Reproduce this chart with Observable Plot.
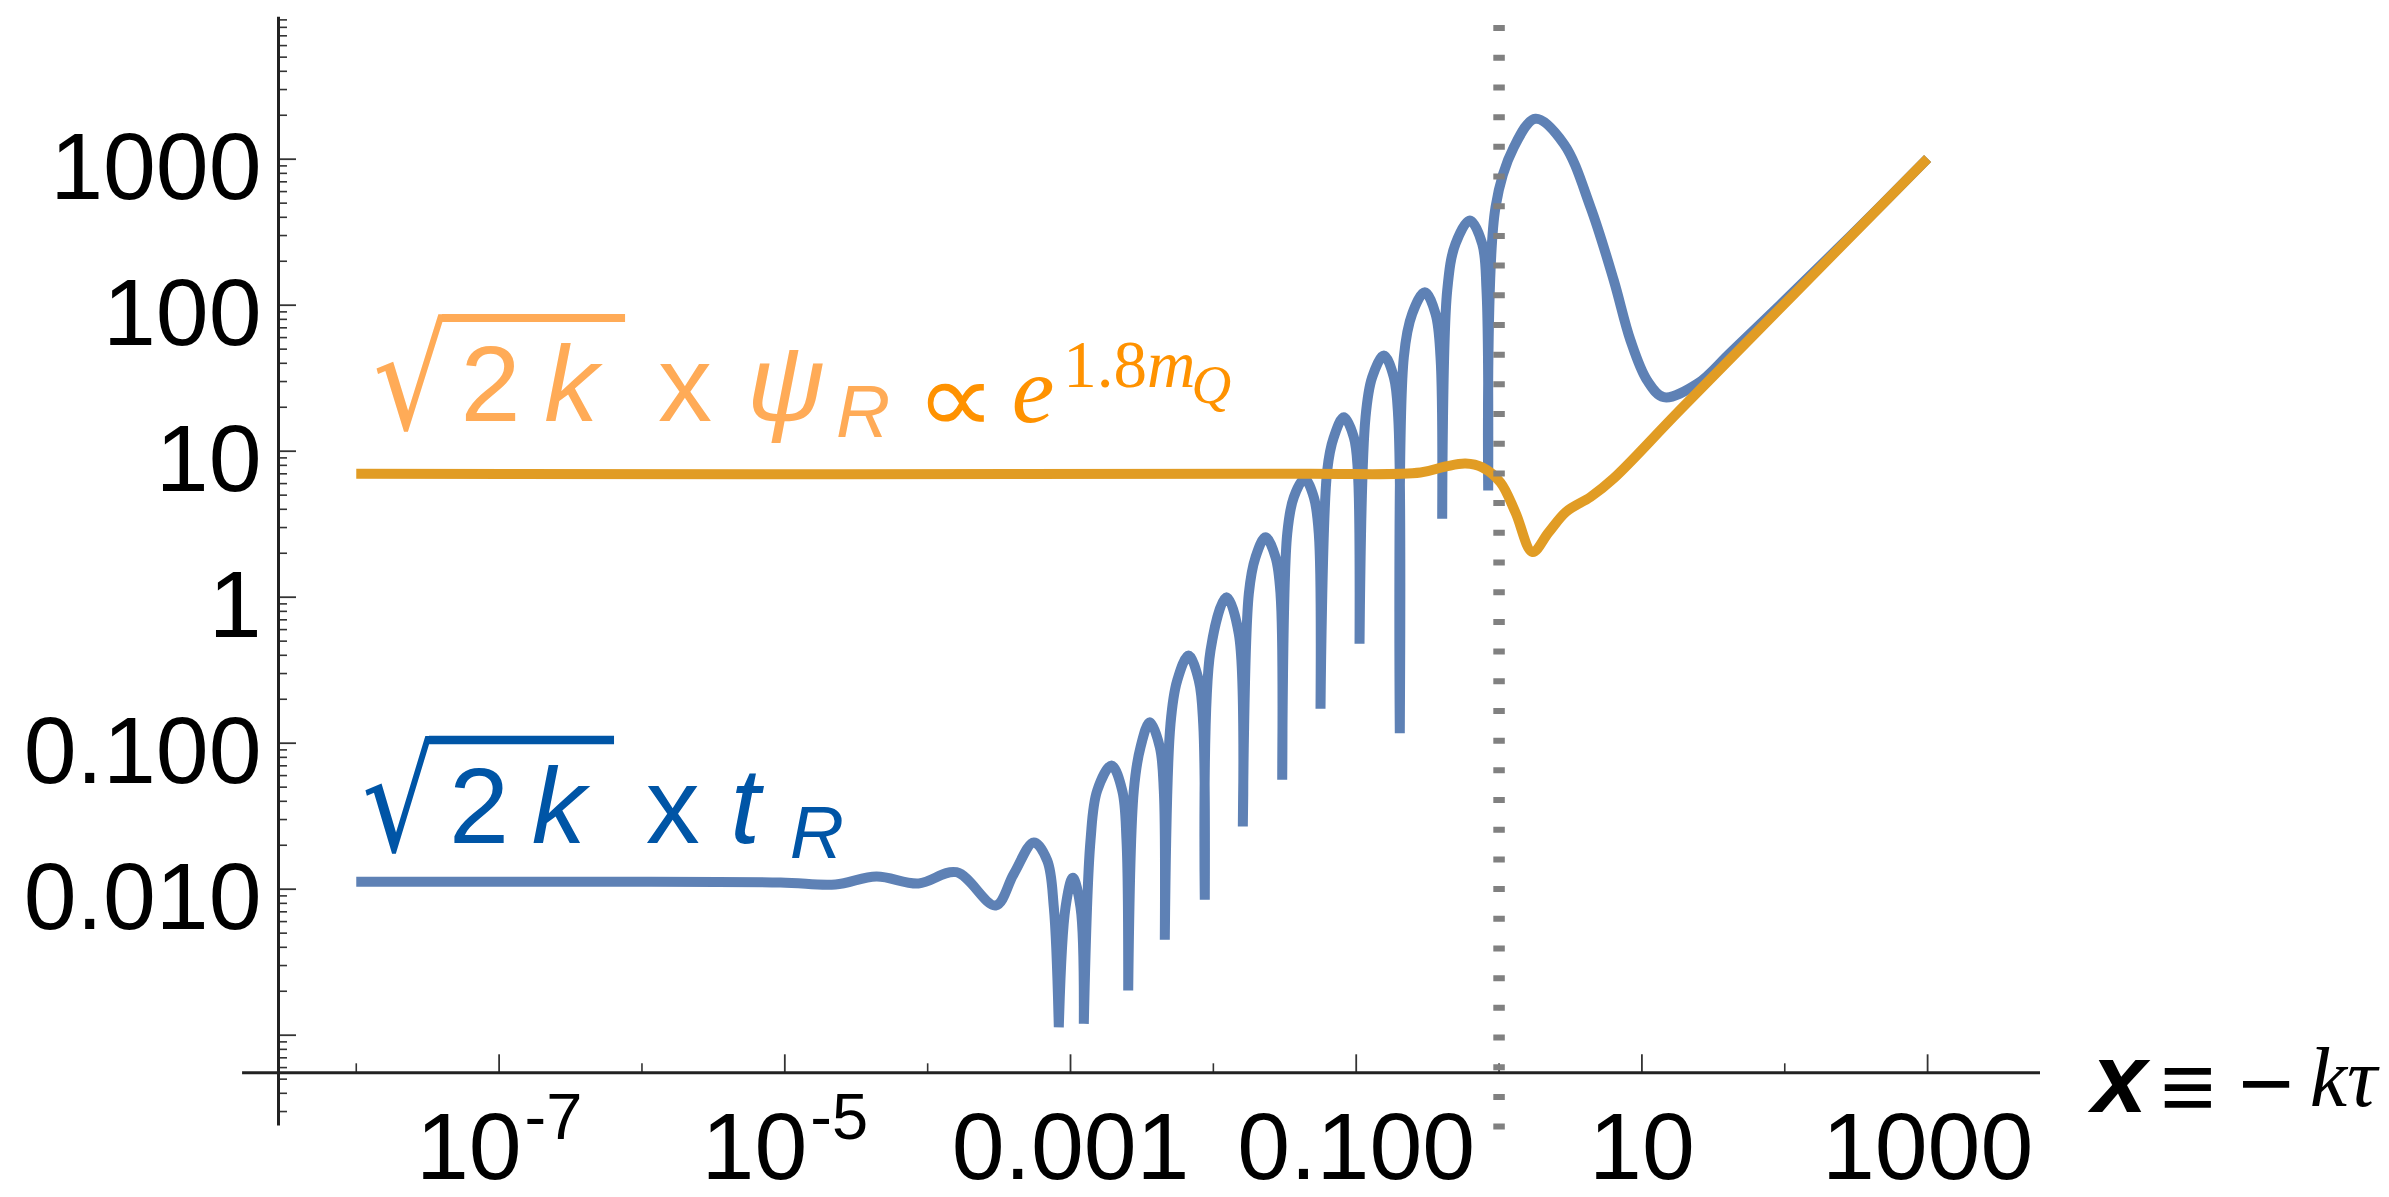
<!DOCTYPE html>
<html>
<head>
<meta charset="utf-8">
<script src="https://cdn.jsdelivr.net/npm/d3@7"></script>
<script src="https://cdn.jsdelivr.net/npm/@observablehq/plot@0.6"></script>
<style>
html, body { margin: 0; padding: 0; background: #fff; overflow: hidden; }
#chart svg { display: block; }
</style>
</head>
<body>
<div id="chart"></div>
<script>
// ---------------- data ----------------
// blue curve: sqrt(2k) x t_R
const tX = [1e-8, 5.13e-7, 9.33e-6, 2.26e-5, 4.38e-5, 8.63e-5, 1.59e-4, 2.99e-4, 4.01e-4, 5.54e-4,
  6.87e-4, 7.64e-4, 8.28e-4, 9.23e-4, 1.038e-3, 1.175e-3, 1.239e-3, 1.380e-3, 1.538e-3, 1.936e-3,
  2.301e-3, 2.466e-3, 2.535e-3, 2.774e-3, 3.090e-3, 3.591e-3, 4.219e-3, 4.499e-3, 4.572e-3, 5.012e-3,
  5.584e-3, 6.699e-3, 7.908e-3, 8.490e-3, 8.711e-3, 9.550e-3, 0.01236, 0.01507, 0.01608, 0.01771,
  0.01973, 0.02318, 0.02724, 0.02952, 0.03034, 0.03289, 0.03658, 0.04346, 0.05049, 0.05472,
  0.05625, 0.06266, 0.06970, 0.08189, 0.09620, 0.1026, 0.1055, 0.1162, 0.1294, 0.1561,
  0.1833, 0.1968, 0.2019, 0.2154, 0.2466, 0.3021, 0.3591, 0.3892, 0.3999, 0.4335,
  0.4956, 0.6241, 0.7621, 0.8169, 0.8395, 0.9443, 1.268, 1.800, 2.840, 4.367,
  6.358, 8.324, 10.89, 14.23, 24.39, 41.72, 93.40, 288.6, 1000];
const tY = [0.01124, 0.01124, 0.01111, 0.01077, 0.01222, 0.01094, 0.01307, 0.007734, 0.01275, 0.02089,
  0.01573, 0.007529, 0.001134, 0.007529, 0.01197, 0.007529, 0.001197, 0.02156, 0.04742, 0.07036,
  0.04742, 0.02156, 0.002024, 0.04742, 0.09389, 0.1392, 0.09389, 0.04742, 0.004502, 0.1358,
  0.2689, 0.3988, 0.2689, 0.1358, 0.008461, 0.4314, 1.0, 0.5614, 0.02689, 1.055,
  1.879, 2.576, 1.879, 1.055, 0.05614, 2.718, 4.841, 6.471, 4.841, 2.718,
  0.1720, 7.375, 12.47, 17.10, 12.47, 7.375, 0.4795, 17.10, 32.12, 45.24,
  32.12, 17.10, 0.1171, 44.04, 87.34, 122.7, 87.34, 44.04, 3.443, 126.1,
  263.4, 380.3, 263.4, 126.1, 5.381, 469.1, 1208, 1891, 1275, 469.1,
  147.6, 57.31, 30.50, 23.44, 28.94, 47.4, 101.1, 297.9, 1010];
// x positions of the sharp dips (zeros) of the blue curve
const tCusps = [8.28e-4, 1.239e-3, 2.535e-3, 4.572e-3, 8.711e-3, 0.01608, 0.03034, 0.05625, 0.1055, 0.2019, 0.3999, 0.8395];

// orange curve: sqrt(2k) x psi_R
const psiX = [1e-8, 0.04, 0.2819, 0.4218, 0.5823, 0.7657, 1.023, 1.303, 1.715, 2.220, 2.966, 4.367, 6.327, 18.63, 1000];
const psiY = [7.0, 7.0, 7.146, 7.857, 8.237, 7.733, 6.105, 3.803, 2.040, 2.775, 3.864, 4.857, 6.501, 19.30, 1010];

// horizon crossing marker
const markerX = [1];

// ticks
const xTickValues = [1e-7, 1e-5, 1e-3, 1e-1, 10, 1000];
const xTickLabels = ["10^-7", "10^-5", "0.001", "0.100", "10", "1000"];
const xMinorValues = [1e-8, 1e-6, 1e-4, 1e-2, 1, 100];
const yTickValues = [0.01, 0.1, 1, 10, 100, 1000];
const yTickLabels = ["0.010", "0.100", "1", "10", "100", "1000"];
const yMajorValues = [1e-3, 0.01, 0.1, 1, 10, 100, 1000];

// axis extents (where the axes cross / end)
const X_MIN = 2.855e-9;       // y axis position
const X_MAX = 6170;           // right end of the x axis
const X_AXIS_LEFT = 1.6e-9;   // x axis sticks out left of the y axis
const Y_MIN = 5.527e-4;       // x axis position
const Y_MAX = 9374;           // top of the y axis
const Y_AXIS_BOTTOM = 2.392e-4;
const MARKER_TOP = 8226, MARKER_BOTTOM = 2.239e-4;

// legend anchors (data units): left of the radical, text baseline
const psiLabelAt = {x: 1.387e-8, y: 15.97};
const tLabelAt = {x: 1.161e-8, y: 0.02046};

// ---------------- styling ----------------
const W = 2389, H = 1197;
const ML = 278, MR = 349, MT = 16.8, MB = 124.7;
const FRAME_W = W - ML - MR, FRAME_H = H - MT - MB;
const SANS = "'Liberation Sans', Arial, Helvetica, sans-serif";
const SERIF = "'Liberation Serif', 'Times New Roman', Times, serif";
const DEJAVU = "'DejaVu Sans', sans-serif";
const BLUE = "#5E81B5", ORANGE = "#E19C24";
const BLUE_TXT = "#0055A6", ORANGE_TXT = "#FFAB57", ORANGE_TXT2 = "#FF9200";
const AXIS = "#222", TICK = "#333";
const LW = 10;

// build tables
const tData = [];
tX.forEach((x, i) => {
  const p = {x, y: tY[i]};
  tData.push(p);
  if (tCusps.includes(x)) tData.push({...p});
});
const psiData = psiX.map((x, i) => ({x, y: psiY[i]}));

const yMinor = [];
for (let e = -4; e <= 3; e++) for (let k = 2; k <= 9; k++) {
  const v = k * Math.pow(10, e);
  if (v >= Y_AXIS_BOTTOM && v <= Y_MAX) yMinor.push(v);
}

const plot = Plot.plot({
  width: W, height: H,
  marginLeft: ML, marginRight: MR, marginTop: MT, marginBottom: MB,
  x: {type: "log", domain: [X_MIN, X_MAX], axis: null},
  y: {type: "log", domain: [Y_MIN, Y_MAX], axis: null},
  style: {background: "white", overflow: "visible"},
  marks: [
    Plot.tickY(yMinor, {y: d => d, insetRight: FRAME_W - 9, stroke: TICK, strokeWidth: 1.6}),
    Plot.tickY(yMajorValues, {y: d => d, insetRight: FRAME_W - 18, stroke: TICK, strokeWidth: 1.8}),
    Plot.tickX(xMinorValues, {x: d => d, insetTop: FRAME_H - 9, stroke: TICK, strokeWidth: 1.6}),
    Plot.tickX(xTickValues, {x: d => d, insetTop: FRAME_H - 18, stroke: TICK, strokeWidth: 1.8}),
    Plot.ruleY([Y_MIN], {x1: X_AXIS_LEFT, x2: X_MAX, stroke: AXIS, strokeWidth: 3}),
    Plot.ruleX([X_MIN], {y1: Y_AXIS_BOTTOM, y2: Y_MAX, stroke: AXIS, strokeWidth: 3}),
    Plot.line(tData, {x: "x", y: "y", stroke: BLUE, strokeWidth: LW, curve: "catmull-rom",
      strokeLinejoin: "miter", strokeMiterlimit: 4, strokeLinecap: "butt"}),
    Plot.line(psiData, {x: "x", y: "y", stroke: ORANGE, strokeWidth: LW, curve: "catmull-rom",
      strokeLinejoin: "round", strokeLinecap: "butt"}),
    Plot.ruleX(markerX, {x: d => d, y1: MARKER_TOP, y2: MARKER_BOTTOM, stroke: "#808080",
      strokeWidth: 11.5, strokeDasharray: "6 23.69"}),
    Plot.text(yTickValues, {y: d => d, frameAnchor: "left", text: (d, i) => yTickLabels[i],
      textAnchor: "end", lineAnchor: "bottom", dx: -17, dy: 39.5, fontSize: 95,
      fontFamily: SANS, fill: "black", ariaLabel: "y-tick-label"}),
    Plot.text(xTickValues, {x: d => d, frameAnchor: "bottom", text: (d, i) => xTickLabels[i],
      textAnchor: "middle", lineAnchor: "bottom", dy: 106, fontSize: 95,
      fontFamily: SANS, fill: "black", ariaLabel: "x-tick-label"})
  ]
});

document.getElementById("chart").appendChild(plot);

// ---------------- rich text (superscripts, legends, axis label) ----------------
const NS = "http://www.w3.org/2000/svg";
const svg = plot.tagName.toLowerCase() === "svg" ? plot : plot.querySelector("svg");

function mapper(sc) {
  if (sc && typeof sc.apply === "function") return v => sc.apply(v);
  const [d0, d1] = sc.domain, [r0, r1] = sc.range;
  return v => r0 + (Math.log(v) - Math.log(d0)) / (Math.log(d1) - Math.log(d0)) * (r1 - r0);
}
const fx = mapper(plot.scale("x"));
const fy = mapper(plot.scale("y"));

// x tick labels with exponents
svg.querySelectorAll("text").forEach(t => {
  const s = t.textContent;
  if (s.includes("^")) {
    const [base, sup] = s.split("^");
    t.textContent = "";
    const b = document.createElementNS(NS, "tspan");
    b.textContent = base;
    t.appendChild(b);
    const p = document.createElementNS(NS, "tspan");
    p.textContent = sup;
    p.setAttribute("font-size", 65);
    p.setAttribute("dy", -40);
    p.setAttribute("dx", 3);
    t.appendChild(p);
  }
});

const layer = document.createElementNS(NS, "g");
layer.setAttribute("text-anchor", "start");
svg.appendChild(layer);
const ctx = document.createElement("canvas").getContext("2d");

function fontOf(o) {
  return `${o.style || "normal"} ${o.weight || "normal"} ${o.size}px ${o.family || SANS}`;
}
function ink(str, o) { ctx.font = fontOf(o); return ctx.measureText(str); }
function addText(x, y, str, o) {
  const t = document.createElementNS(NS, "text");
  t.setAttribute("x", x);
  t.setAttribute("y", y);
  t.setAttribute("text-anchor", "start");
  t.setAttribute("font-family", o.family || SANS);
  t.setAttribute("font-size", o.size);
  if (o.style) t.setAttribute("font-style", o.style);
  if (o.weight) t.setAttribute("font-weight", o.weight);
  t.setAttribute("fill", o.fill);
  t.textContent = str;
  layer.appendChild(t);
  return t;
}
// place text so its ink starts at `left`; vertical by baseline or by ink top
function place(str, left, o) {
  const m = ink(str, o);
  const x = left + m.actualBoundingBoxLeft;
  const y = o.top !== undefined ? o.top + m.actualBoundingBoxAscent : o.baseline;
  return addText(x, y, str, o);
}
// scale a glyph so that its ink fills a box
function fit(str, box, o) {
  const m = ink(str, o);
  const w = m.actualBoundingBoxLeft + m.actualBoundingBoxRight;
  const h = m.actualBoundingBoxAscent + m.actualBoundingBoxDescent;
  const sx = (box.r - box.l) / w, sy = (box.b - box.t) / h;
  const t = addText(0, 0, str, o);
  t.setAttribute("transform",
    `translate(${box.l + m.actualBoundingBoxLeft * sx},${box.t + m.actualBoundingBoxAscent * sy}) scale(${sx},${sy})`);
  return t;
}
function addBar(x1, x2, y, w, color) {
  const l = document.createElementNS(NS, "line");
  l.setAttribute("x1", x1); l.setAttribute("x2", x2);
  l.setAttribute("y1", y); l.setAttribute("y2", y);
  l.setAttribute("stroke", color); l.setAttribute("stroke-width", w);
  layer.appendChild(l);
}
function tspan(parent, str, attrs) {
  const s = document.createElementNS(NS, "tspan");
  for (const k in attrs) s.setAttribute(k, attrs[k]);
  s.textContent = str;
  parent.appendChild(s);
  return s;
}

// orange legend: √(2k) x ψ_R ∝ e^{1.8 m_Q}
{
  const ax = fx(psiLabelAt.x), ay = fy(psiLabelAt.y);
  const c = ORANGE_TXT, c2 = ORANGE_TXT2;
  fit("\u221A", {l: ax, r: ax + 74, t: ay - 107, b: ay + 12}, {size: 120, family: DEJAVU, fill: c});
  addBar(ax + 66, ax + 249, ay - 103, 8, c);
  place("2", ax + 89.5, {baseline: ay, size: 108, fill: c});
  place("k", ax + 169.2, {baseline: ay, size: 108, style: "italic", fill: c});
  place("x", ax + 283, {baseline: ay, size: 108, fill: c});
  place("\u03C8", ax + 376.8, {baseline: ay, size: 108, style: "italic", fill: c});
  place("R", ax + 462, {baseline: ay + 15.7, size: 75, style: "italic", fill: c});
  fit("\u221D", {l: ax + 550.8, r: ax + 608, t: ay - 37.7, b: ay + 0.7}, {size: 100, family: DEJAVU, fill: c2});
  place("e", ax + 637.8, {baseline: ay + 1, size: 96, family: SERIF, style: "italic", fill: c2});
  const sup = place("1.8", ax + 692.2, {baseline: ay - 34.3, size: 67, family: SERIF, fill: c2});
  tspan(sup, "m", {"font-style": "italic"});
  tspan(sup, "Q", {"font-style": "italic", "font-size": 55, dy: 16.3, dx: -4});
}
// blue legend: √(2k) x t_R
{
  const ax = fx(tLabelAt.x), ay = fy(tLabelAt.y);
  const c = BLUE_TXT;
  fit("\u221A", {l: ax, r: ax + 71.7, t: ay - 107.6, b: ay + 11.7}, {size: 120, family: DEJAVU, fill: c});
  addBar(ax + 64, ax + 249, ay - 103.3, 8.3, c);
  place("2", ax + 89, {baseline: ay, size: 108, fill: c});
  place("k", ax + 167.7, {baseline: ay, size: 108, style: "italic", fill: c});
  place("x", ax + 281.7, {baseline: ay, size: 108, fill: c});
  place("t", ax + 369.3, {baseline: ay, size: 108, style: "italic", fill: c});
  place("R", ax + 426.7, {baseline: ay + 15, size: 75, style: "italic", fill: c});
}
// x axis label: x ≡ −kτ
{
  const ax = fx(X_MAX) + 47, ay = fy(Y_MIN) + 39.7;
  place("x", ax, {baseline: ay, size: 99, style: "italic", weight: "bold", fill: "black"});
  place("\u2261", ax + 77, {top: ay - 45, size: 95, fill: "black"});
  place("\u2212", ax + 155.3, {top: ay - 31, size: 95, fill: "black"});
  place("k\u03C4", ax + 224.7, {baseline: ay - 6, size: 84, family: SERIF, style: "italic", fill: "black"});
}
</script>
</body>
</html>
